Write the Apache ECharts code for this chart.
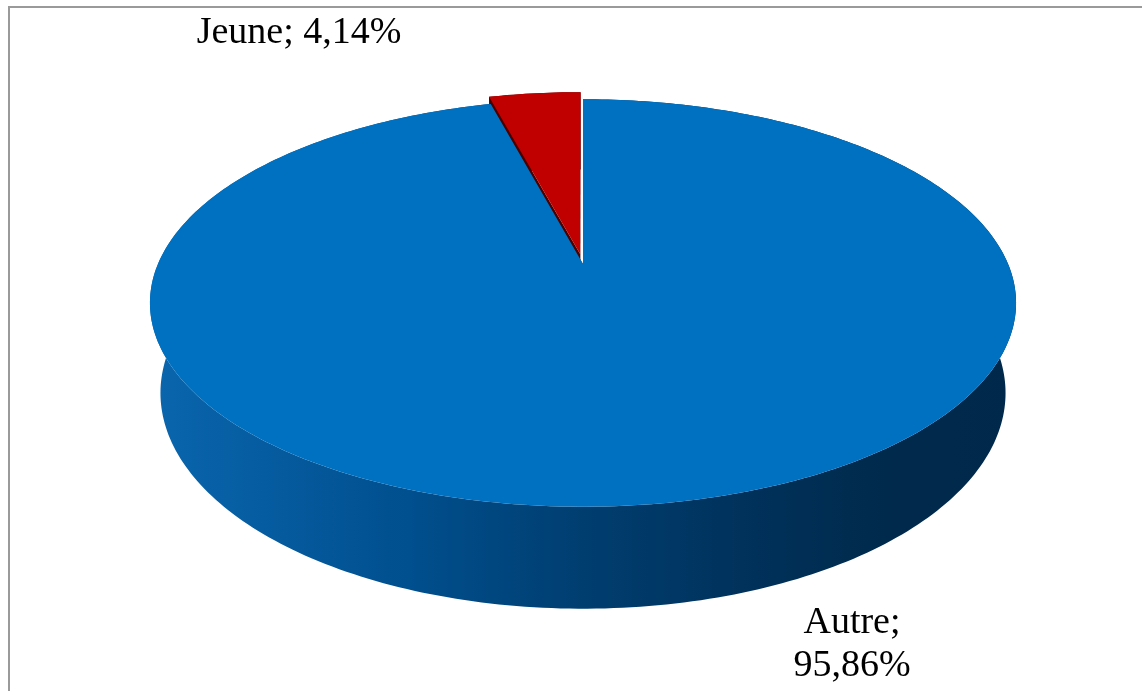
<!DOCTYPE html>
<html>
<head>
	<meta charset="utf-8">
	<title>Jeune / Autre</title>
	<style>
		html, body { margin: 0; padding: 0; background: #fff; }
		#chart { width: 1142px; height: 691px; }
	</style>
</head>
<body>
	<div id="chart"></div>
	<script type="text/javascript" src="https://cdn.jsdelivr.net/npm/echarts@6/dist/echarts.min.js"></script>
	<script type="text/javascript">
	// data
	var categories = ['Autre', 'Jeune'];
	var values = [95.86, 4.14];

	// look of the 3D pie
	var topColors = ['#0070c0', '#c00000'];
	var faceColors = ['#003c6c', '#4a0000'];
	var explode = [0, 0.052];
	var labelAt = [[852, 645], [299, 33]];
	var labelWrap = [true, false];

	// perspective camera
	var cx = 583, cy = 264;
	var K = 1971, D = 4.637, H = 0.2407;
	var phi = 27.5 * Math.PI / 180;
	var sphi = Math.sin(phi), cphi = Math.cos(phi);

	function proj(x, h, z) {
		var depth = D - h * sphi - z * cphi;
		var yc = h * cphi - z * sphi;
		return [cx + K * x / depth, cy - K * yc / depth];
	}

	var total = values.reduce(function(a, b) { return a + b; }, 0);

	function sliceAngles(i) {
		var start = 0;
		for (var j = 0; j < i; j++) start += values[j];
		return [start / total * Math.PI * 2, (start + values[i]) / total * Math.PI * 2];
	}

	function renderItem(params, api) {
		var i = params.dataIndex;
		var ang = sliceAngles(i);
		var mid = (ang[0] + ang[1]) / 2;
		var ox = Math.sin(mid) * explode[i], oz = -Math.cos(mid) * explode[i];
		var n = Math.max(4, Math.ceil((ang[1] - ang[0]) / (Math.PI / 180)));
		var topPts = [], botPts = [];
		for (var s = 0; s <= n; s++) {
			var a = ang[0] + (ang[1] - ang[0]) * s / n;
			var x = Math.sin(a) + ox, z = -Math.cos(a) + oz;
			topPts.push(proj(x, 0, z));
			botPts.push(proj(x, -H, z));
		}
		var cTop = proj(ox, 0, oz), cBot = proj(ox, -H, oz);
		var children = [];

		// curved outer wall
		children.push({
			type: 'polygon',
			z2: 1,
			shape: { points: topPts.concat(botPts.slice().reverse()) },
			style: {
				fill: i === 0 ? {
					type: 'linear', x: 0, y: 0, x2: 1, y2: 0,
					colorStops: [
						{ offset: 0, color: '#0a66ae' },
						{ offset: 0.3, color: '#004f8e' },
						{ offset: 0.5, color: '#003e70' },
						{ offset: 0.7, color: '#00315a' },
						{ offset: 0.85, color: '#002a4c' },
						{ offset: 1, color: '#00284a' }
					]
				} : faceColors[i]
			}
		});
		// radial cut faces
		[0, n].forEach(function(k) {
			children.push({
				type: 'polygon',
				z2: 2,
				shape: { points: [cTop, topPts[k], botPts[k], cBot] },
				style: { fill: faceColors[i] }
			});
		});
		// top face
		children.push({
			type: 'polygon',
			z2: 10,
			shape: { points: [cTop].concat(topPts) },
			style: { fill: topColors[i] }
		});
		// label
		var pct = api.value(0).toFixed(2).replace('.', ',') + '%';
		children.push({
			type: 'text',
			z2: 20,
			style: {
				text: categories[i] + ';' + (labelWrap[i] ? '\n' : ' ') + pct,
				x: labelAt[i][0],
				y: labelAt[i][1],
				fill: '#000',
				fontFamily: 'Liberation Serif',
				fontSize: 38,
				lineHeight: 43,
				align: 'center',
				verticalAlign: 'middle'
			}
		});
		return { type: 'group', children: children };
	}

	var myChart = echarts.init(document.getElementById('chart'));
	var option = {
		animation: false,
		backgroundColor: '#fff',
		graphic: [{
			type: 'rect',
			shape: { x: 9, y: 7, width: 1300, height: 900 },
			style: { fill: 'none', stroke: '#9a9a9a', lineWidth: 2 },
			silent: true
		}],
		series: [{
			type: 'custom',
			coordinateSystem: 'none',
			renderItem: renderItem,
			data: values.map(function(v, i) { return { name: categories[i], value: v }; })
		}]
	};
	myChart.setOption(option);
	</script>
</body>
</html>
